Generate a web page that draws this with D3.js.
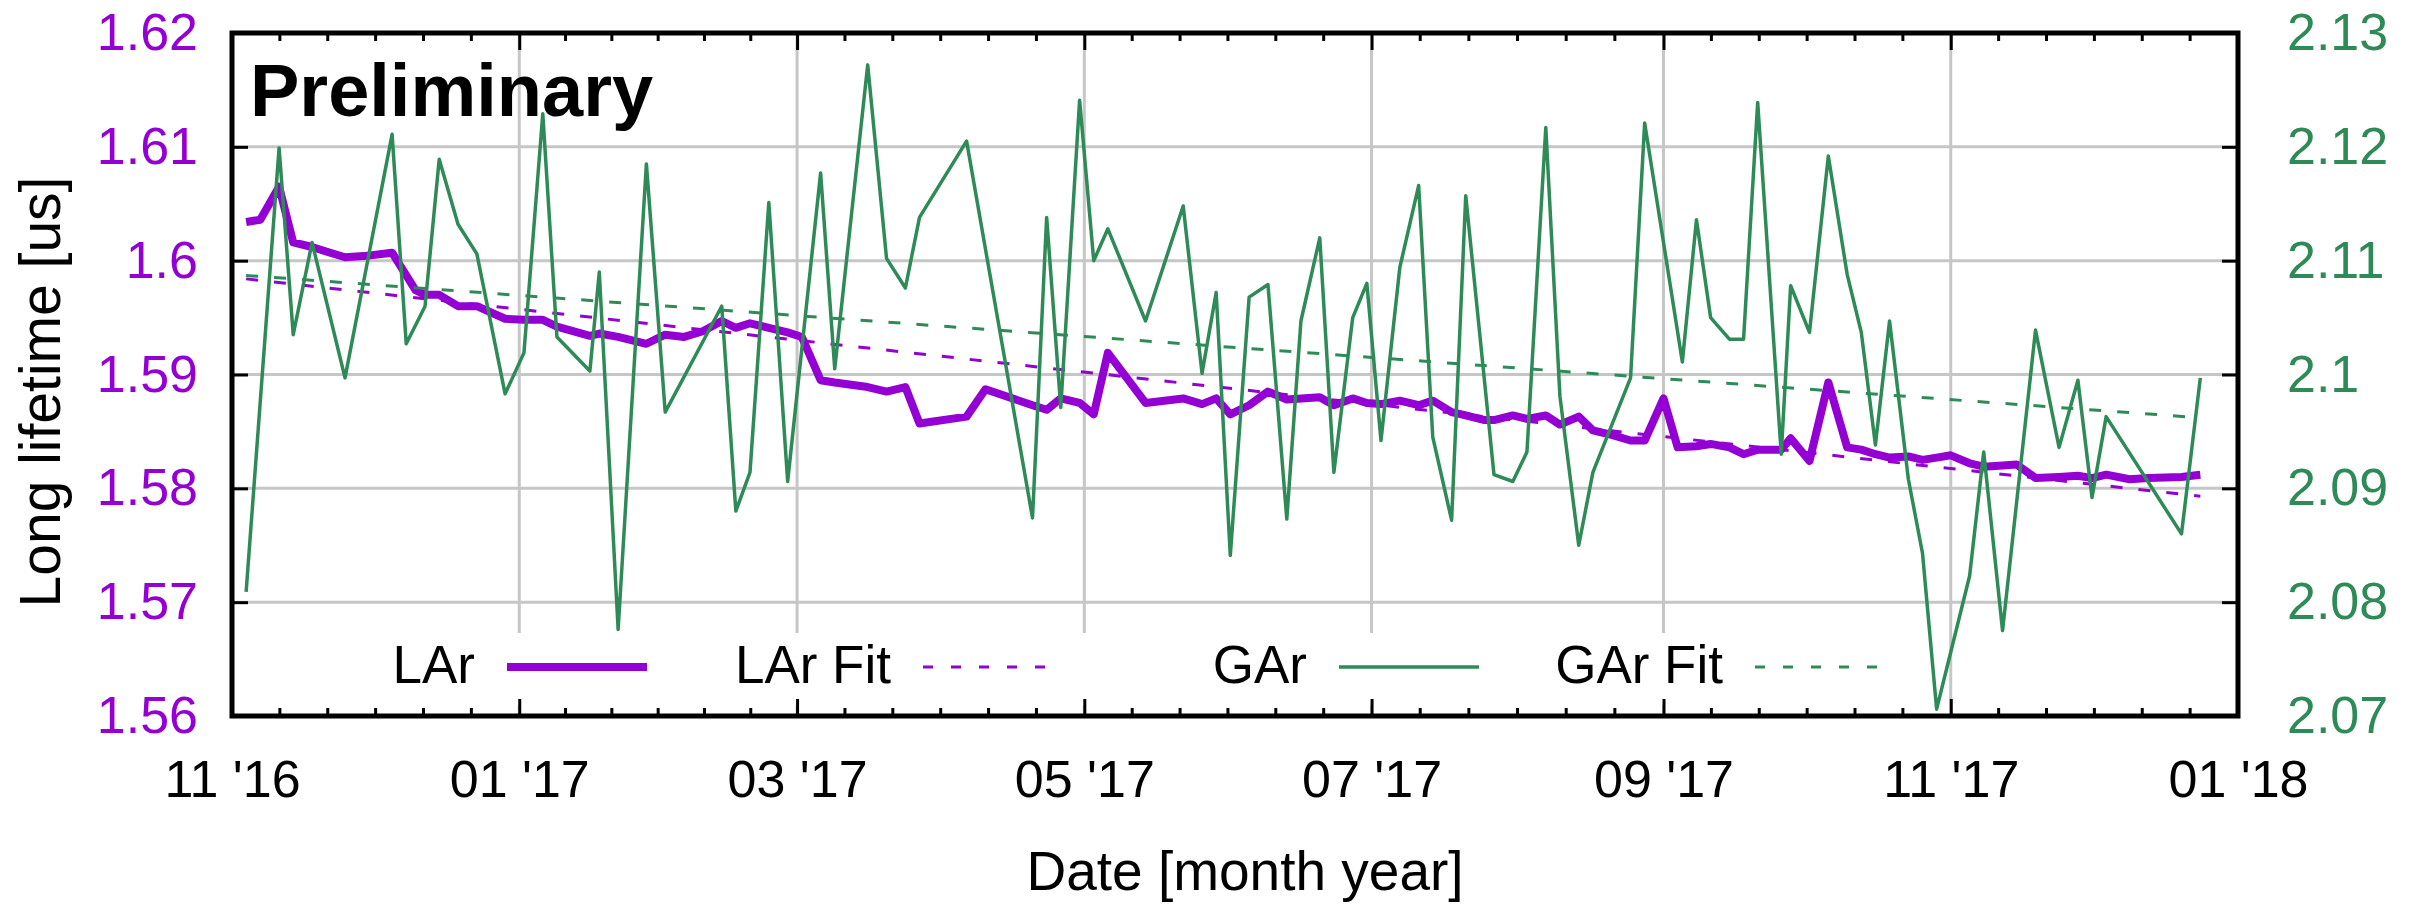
<!DOCTYPE html>
<meta charset="utf-8">
<style>
body { margin: 0; background: #fff; }
svg { font-family: "Liberation Sans", Arial, Helvetica, sans-serif; }
.grid line { stroke: #c6c6c6; stroke-width: 3; }
.axis text { font-size: 52px; }
.axis line { stroke: #000; stroke-width: 3; }
.legend text { font-size: 53px; fill: #000; }
.title { font-size: 55px; fill: #000; }
</style>

<script src="https://d3js.org/d3.v7.min.js"></script>
<svg width="2424" height="906"></svg>

<script>

// LAr long lifetime (left axis, us)
var larDates = [
    "2016-11-04", "2016-11-07", "2016-11-11", "2016-11-14", "2016-11-18", "2016-11-21", "2016-11-25", "2016-11-29",
    "2016-12-05", "2016-12-10", "2016-12-12", "2016-12-15", "2016-12-19", "2016-12-23", "2016-12-29",
    "2017-01-02", "2017-01-06", "2017-01-09", "2017-01-16", "2017-01-18", "2017-01-22", "2017-01-28",
    "2017-02-01", "2017-02-05", "2017-02-09", "2017-02-13", "2017-02-16", "2017-02-19", "2017-02-23", "2017-02-27",
    "2017-03-02", "2017-03-06", "2017-03-09", "2017-03-16", "2017-03-20", "2017-03-24", "2017-03-27",
    "2017-04-06", "2017-04-10", "2017-04-20", "2017-04-23", "2017-04-26", "2017-04-30",
    "2017-05-03", "2017-05-06", "2017-05-14", "2017-05-22", "2017-05-26", "2017-05-29",
    "2017-06-01", "2017-06-05", "2017-06-09", "2017-06-13", "2017-06-20", "2017-06-23", "2017-06-27", "2017-06-30",
    "2017-07-03", "2017-07-07", "2017-07-11", "2017-07-14", "2017-07-18", "2017-07-21", "2017-07-25", "2017-07-27", "2017-07-31",
    "2017-08-03", "2017-08-07", "2017-08-10", "2017-08-14", "2017-08-17", "2017-08-21", "2017-08-25", "2017-08-28",
    "2017-09-01", "2017-09-04", "2017-09-08", "2017-09-11", "2017-09-15", "2017-09-18", "2017-09-21", "2017-09-26", "2017-09-28",
    "2017-10-02", "2017-10-06", "2017-10-10", "2017-10-13", "2017-10-16", "2017-10-19", "2017-10-23", "2017-10-26", "2017-10-29",
    "2017-11-01", "2017-11-05", "2017-11-08", "2017-11-12", "2017-11-15", "2017-11-19", "2017-11-24", "2017-11-28",
    "2017-12-01", "2017-12-04", "2017-12-09", "2017-12-13", "2017-12-20", "2017-12-24"
];
var larValues = [
    1.6034, 1.6036, 1.6065, 1.6016, 1.6012, 1.6008, 1.6003, 1.6004,
    1.6007, 1.5974, 1.5970, 1.5970, 1.5960, 1.5960, 1.5949,
    1.5948, 1.5948, 1.5942, 1.5934, 1.5936, 1.5933, 1.5927,
    1.5935, 1.5933, 1.5938, 1.5947, 1.5941, 1.5945, 1.5941, 1.5937,
    1.5933, 1.5895, 1.5893, 1.5889, 1.5885, 1.5889, 1.5857,
    1.5863, 1.5887, 1.5873, 1.5869, 1.5879, 1.5875,
    1.5865, 1.5919, 1.5875, 1.5879, 1.5874, 1.5879,
    1.5865, 1.5873, 1.5885, 1.5878, 1.5880, 1.5873, 1.5879, 1.5875,
    1.5874, 1.5877, 1.5873, 1.5877, 1.5867, 1.5864, 1.5860, 1.5860, 1.5864,
    1.5861, 1.5864, 1.5856, 1.5863, 1.5851, 1.5847, 1.5842, 1.5842,
    1.5879, 1.5836, 1.5837, 1.5839, 1.5836, 1.5830, 1.5834, 1.5834, 1.5844,
    1.5824, 1.5893, 1.5836, 1.5834, 1.5830, 1.5827, 1.5828, 1.5825, 1.5827,
    1.5829, 1.5822, 1.5819, 1.5820, 1.5821, 1.5809, 1.5810, 1.5811,
    1.5809, 1.5812, 1.5808, 1.5809, 1.5810, 1.5812
];

// GAr long lifetime (right axis, us)
var garDates = [
    "2016-11-04", "2016-11-11", "2016-11-14", "2016-11-18", "2016-11-25",
    "2016-12-05", "2016-12-08", "2016-12-12", "2016-12-15", "2016-12-19", "2016-12-23", "2016-12-29",
    "2017-01-02", "2017-01-06", "2017-01-09", "2017-01-16", "2017-01-18", "2017-01-22", "2017-01-28",
    "2017-02-01", "2017-02-13", "2017-02-16", "2017-02-19", "2017-02-23", "2017-02-27",
    "2017-03-06", "2017-03-09", "2017-03-16", "2017-03-20", "2017-03-24", "2017-03-27",
    "2017-04-06", "2017-04-20", "2017-04-23", "2017-04-26", "2017-04-30",
    "2017-05-03", "2017-05-06", "2017-05-14", "2017-05-22", "2017-05-26", "2017-05-29",
    "2017-06-01", "2017-06-05", "2017-06-09", "2017-06-13", "2017-06-16", "2017-06-20", "2017-06-23", "2017-06-27", "2017-06-30",
    "2017-07-03", "2017-07-07", "2017-07-11", "2017-07-14", "2017-07-18", "2017-07-21", "2017-07-27", "2017-07-31",
    "2017-08-03", "2017-08-07", "2017-08-10", "2017-08-14", "2017-08-17", "2017-08-25", "2017-08-28",
    "2017-09-05", "2017-09-08", "2017-09-11", "2017-09-15", "2017-09-18", "2017-09-21", "2017-09-26", "2017-09-28",
    "2017-10-02", "2017-10-06", "2017-10-10", "2017-10-13", "2017-10-16", "2017-10-19", "2017-10-23", "2017-10-26", "2017-10-29",
    "2017-11-05", "2017-11-08", "2017-11-12", "2017-11-19", "2017-11-24", "2017-11-28",
    "2017-12-01", "2017-12-04", "2017-12-20", "2017-12-24"
];
var garValues = [
    2.0809, 2.1199, 2.1035, 2.1116, 2.0997,
    2.1211, 2.1027, 2.1060, 2.1189, 2.1132, 2.1106, 2.0983,
    2.1019, 2.1229, 2.1033, 2.1003, 2.1090, 2.0776, 2.1185,
    2.0967, 2.1060, 2.0880, 2.0914, 2.1151, 2.0906,
    2.1177, 2.1005, 2.1272, 2.1102, 2.1076, 2.1138,
    2.1205, 2.0874, 2.1138, 2.0971, 2.1241,
    2.1100, 2.1128, 2.1047, 2.1148, 2.1001, 2.1072,
    2.0841, 2.1068, 2.1079, 2.0873, 2.1047, 2.1120, 2.0914, 2.1050, 2.1080,
    2.0942, 2.1094, 2.1166, 2.0945, 2.0872, 2.1157, 2.0912, 2.0906,
    2.0932, 2.1217, 2.0981, 2.0850, 2.0914, 2.0997, 2.1221,
    2.1011, 2.1136, 2.1050, 2.1031, 2.1031, 2.1239, 2.0930, 2.1078,
    2.1037, 2.1192, 2.1088, 2.1037, 2.0938, 2.1047, 2.0908, 2.0843, 2.0706,
    2.0823, 2.0932, 2.0775, 2.1039, 2.0936, 2.0995,
    2.0892, 2.0963, 2.0860, 2.0997
];

// linear fits, end points
var fitDates = ["2016-11-04", "2017-12-24"];
var larFit = [1.5984, 1.5793];
var garFit = [2.1087, 2.0962];

var monthTicks = ["2016-11-01", "2017-01-01", "2017-03-01", "2017-05-01",
                  "2017-07-01", "2017-09-01", "2017-11-01", "2018-01-01"];
var leftTicks = [1.56, 1.57, 1.58, 1.59, 1.6, 1.61, 1.62];
var rightTicks = [2.07, 2.08, 2.09, 2.1, 2.11, 2.12, 2.13];
var legendNames = ["LAr", "LAr Fit", "GAr", "GAr Fit"];

var purple = "#9400d3",
    green = "#2e8b57";

var svg = d3.select("svg");
var parse = d3.timeParse("%Y-%m-%d");

var plotL = 232, plotR = 2238, plotT = 33, plotB = 716;

var majors = monthTicks.map(parse);

var x = d3.scaleTime()
    .domain([majors[0], majors[majors.length - 1]])
    .range([plotL, plotR]);

var yL = d3.scaleLinear().domain([1.56, 1.62]).range([plotB, plotT]);
var yR = d3.scaleLinear().domain([2.07, 2.13]).range([plotB, plotT]);

// grid
var grid = svg.append("g").attr("class", "grid");
grid.selectAll(".gx")
    .data(majors.slice(1, -1))
    .enter().append("line")
    .attr("x1", function(d) { return x(d); })
    .attr("x2", function(d) { return x(d); })
    .attr("y1", plotT)
    .attr("y2", plotB);
grid.selectAll(".gy")
    .data(leftTicks.slice(1, -1))
    .enter().append("line")
    .attr("x1", plotL)
    .attr("x2", plotR)
    .attr("y1", function(d) { return yL(d); })
    .attr("y2", function(d) { return yL(d); });

// data
var lar = larDates.map(function(d, i) { return [parse(d), larValues[i]]; });
var gar = garDates.map(function(d, i) { return [parse(d), garValues[i]]; });
var larF = fitDates.map(function(d, i) { return [parse(d), larFit[i]]; });
var garF = fitDates.map(function(d, i) { return [parse(d), garFit[i]]; });

var lineL = d3.line().x(function(d) { return x(d[0]); }).y(function(d) { return yL(d[1]); });
var lineR = d3.line().x(function(d) { return x(d[0]); }).y(function(d) { return yR(d[1]); });

svg.append("path").datum(lar)
    .attr("d", lineL)
    .attr("fill", "none").attr("stroke", purple)
    .attr("stroke-width", 8).attr("stroke-linejoin", "round");

svg.append("path").datum(larF)
    .attr("d", lineL)
    .attr("fill", "none").attr("stroke", purple)
    .attr("stroke-width", 3).attr("stroke-dasharray", "12,16");

svg.append("path").datum(gar)
    .attr("d", lineR)
    .attr("fill", "none").attr("stroke", green)
    .attr("stroke-width", 3.5).attr("stroke-linejoin", "round");

svg.append("path").datum(garF)
    .attr("d", lineR)
    .attr("fill", "none").attr("stroke", green)
    .attr("stroke-width", 3).attr("stroke-dasharray", "12,16");

// legend (opaque box)
var legend = svg.append("g").attr("class", "legend");
legend.append("rect")
    .attr("x", 360).attr("y", 633)
    .attr("width", 1545).attr("height", 72)
    .attr("fill", "#fff");

var legendStyle = [
    {color: purple, width: 8, dash: null},
    {color: purple, width: 3, dash: "10,18"},
    {color: green, width: 3.5, dash: null},
    {color: green, width: 3, dash: "10,18"}
];

legendNames.forEach(function(name, i) {
    var xe = 475 + i * 416;
    legend.append("text")
        .attr("x", xe).attr("y", 683)
        .attr("text-anchor", "end")
        .text(name);
    legend.append("line")
        .attr("x1", xe + 32).attr("x2", xe + 172)
        .attr("y1", 667).attr("y2", 667)
        .attr("stroke", legendStyle[i].color)
        .attr("stroke-width", legendStyle[i].width)
        .attr("stroke-dasharray", legendStyle[i].dash);
});

// axes
var fmt = d3.timeFormat("%m '%y");

var gx = svg.append("g").attr("class", "axis")
    .attr("transform", "translate(0," + plotB + ")")
    .attr("color", "#000")
    .call(d3.axisBottom(x).tickValues(majors).tickFormat(fmt)
        .tickSizeInner(-17).tickSizeOuter(0).tickPadding(44));
gx.select(".domain").remove();

var gxt = svg.append("g").attr("class", "axis")
    .attr("transform", "translate(0," + plotT + ")")
    .attr("color", "#000")
    .call(d3.axisTop(x).tickValues(majors).tickFormat(function() { return ""; })
        .tickSizeInner(-17).tickSizeOuter(0));
gxt.select(".domain").remove();

var gl = svg.append("g").attr("class", "axis")
    .attr("transform", "translate(" + plotL + ",0)")
    .attr("color", purple)
    .call(d3.axisLeft(yL).tickValues(leftTicks).tickFormat(function(d) { return d; })
        .tickSizeInner(-16).tickSizeOuter(0).tickPadding(34));
gl.select(".domain").remove();
gl.selectAll("line").attr("stroke", "#000");

var gr = svg.append("g").attr("class", "axis")
    .attr("transform", "translate(" + plotR + ",0)")
    .attr("color", green)
    .call(d3.axisRight(yR).tickValues(rightTicks).tickFormat(function(d) { return d; })
        .tickSizeInner(-16).tickSizeOuter(0).tickPadding(49));
gr.select(".domain").remove();
gr.selectAll("line").attr("stroke", "#000");

// minor x ticks, 6 steps between majors
var minors = [];
for (var k = 0; k < majors.length - 1; k++) {
    var a = x(majors[k]), b = x(majors[k + 1]);
    for (var s = 1; s < 6; s++) minors.push(a + s * (b - a) / 6);
}
var mg = svg.append("g").attr("stroke", "#000").attr("stroke-width", 3);
mg.selectAll(".mb").data(minors).enter().append("line")
    .attr("x1", function(d) { return d; }).attr("x2", function(d) { return d; })
    .attr("y1", plotB).attr("y2", plotB - 8);
mg.selectAll(".mt").data(minors).enter().append("line")
    .attr("x1", function(d) { return d; }).attr("x2", function(d) { return d; })
    .attr("y1", plotT).attr("y2", plotT + 8);

// frame
svg.append("rect")
    .attr("x", plotL).attr("y", plotT)
    .attr("width", plotR - plotL).attr("height", plotB - plotT)
    .attr("fill", "none")
    .attr("stroke", "#000")
    .attr("stroke-width", 5);

// titles
svg.append("text")
    .attr("class", "title")
    .attr("transform", "translate(60,392) rotate(-90)")
    .attr("text-anchor", "middle")
    .attr("font-size", 57)
    .style("font-size", "57px")
    .text("Long lifetime [us]");

svg.append("text")
    .attr("class", "title")
    .attr("x", 1245).attr("y", 890)
    .attr("text-anchor", "middle")
    .text("Date [month year]");

svg.append("text")
    .attr("x", 250).attr("y", 116)
    .attr("font-size", 74)
    .attr("font-weight", "bold")
    .attr("fill", "#000")
    .text("Preliminary");

</script>
